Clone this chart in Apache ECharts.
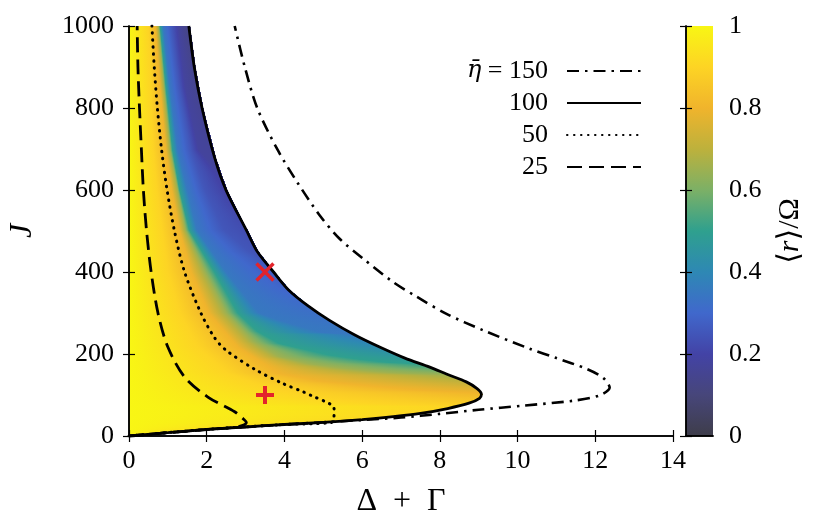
<!DOCTYPE html>
<html>
<head>
<meta charset="utf-8">
<script src="https://cdn.jsdelivr.net/npm/echarts@6/dist/echarts.min.js"></script>
<style>
  html, body { margin: 0; padding: 0; background: #fff; }
  #chart { width: 829px; height: 515px; }
</style>
</head>
<body>
<div id="chart"></div>
<script>
const serif = "'Liberation Serif', 'DejaVu Serif', serif";

// boundary curves [Δ+Γ, J], lower branch -> tip -> upper branch (J increasing)
const eta150 = [[0,0],[2,16],[4,28],[6,39],[7,45],[8,54],[9,64],[10.14,74],[11.43,86],[12.11,99],[12.37,118],[12.2,142],[11.77,164],[11,190],[10.31,213],[9.11,258],[8.17,298],[7.4,340],[6.79,376],[6.02,433],[5.42,481],[4.91,538],[4.35,616],[3.83,697],[3.3,800],[2.98,900],[2.72,1000]];
const eta100 = [[0,0],[1,8],[2,16],[3,22],[4,28],[5,33],[6,40],[6.8,47],[7.5,55],[8.2,67],[8.75,80],[9.02,92],[9.07,102],[8.95,116],[8.68,132],[8.2,150],[7.74,168],[7.1,190],[6.45,217],[5.8,247],[5.16,282],[4.6,318],[4.1,357],[3.72,400],[3.3,450],[3.02,502],[2.5,599],[2.2,680],[1.88,800],[1.68,900],[1.54,1000]];
const eta50 = [[0,0],[2,16],[4,28],[5.2,33],[5.27,45],[5.28,60],[5.26,72],[5.05,84],[4.73,97],[4.5,107],[3.96,128],[3.25,162],[2.5,209],[2.2,240],[1.85,300],[1.43,400],[1.17,500],[0.98,600],[0.84,697],[0.73,800],[0.65,900],[0.59,1000]];
const eta25 = [[0,0],[1.5,12],[2.7,21],[2.95,27],[3.02,33],[2.95,41],[2.72,59],[2.03,95],[1.43,144],[1.0,217],[0.75,298],[0.57,400],[0.45,502],[0.37,600],[0.32,697],[0.27,800],[0.23,900],[0.21,1000]];

// contours of <r>/Ω, from J = 1000 down to where they meet the η̄ = 100 boundary
const contourLevels = [0.9, 0.8, 0.65, 0.5, 0.35, 0.25, 0.18];
const iso90 = [[0.5,1000],[0.56,850],[0.62,697],[0.72,600],[0.85,502],[1.0,400],[1.3,300],[1.75,220],[2.5,155],[3.3,125],[3.9,110],[5.0,92],[6.45,79],[7.6,74],[8.41,72]];
const iso80 = [[0.68,1000],[0.8,850],[0.95,697],[1.1,600],[1.3,502],[1.6,400],[2.05,300],[2.8,217],[3.88,152],[5.0,133],[6.45,120],[7.6,111],[8.6,107],[9.05,105]];
const iso65 = [[0.76,1000],[0.9,850],[1.06,697],[1.25,600],[1.45,502],[1.95,400],[2.5,300],[3.2,230],[3.88,193],[4.7,175],[5.6,164],[6.5,156],[7.4,151],[8.22,149]];
const iso50 = [[0.8,1000],[0.95,850],[1.12,697],[1.3,600],[1.55,502],[2.2,400],[2.8,300],[3.3,255],[3.88,225],[5.16,197],[6.0,186],[6.71,179],[7.54,175]];
const iso35 = [[0.88,1000],[1.05,850],[1.25,697],[1.5,600],[1.75,502],[2.5,400],[3.35,300],[3.88,282],[4.99,252],[5.8,247]];
const iso25 = [[1.1,1000],[1.3,850],[1.6,697],[1.95,600],[2.45,502],[3.1,450],[3.45,432]];
const iso18 = [[1.27,1000],[1.45,850],[1.8,697],[2.35,640]];
const isolines = [iso90, iso80, iso65, iso50, iso35, iso25, iso18];
const leftEdgeValue = 1.0;      // value along Δ+Γ = 0
const topEdgeValue = 0.12;      // value where the boundary meets J = 1000
const lowerBranchValue = 0.93;  // value on the lower branch near J = 0

// markers
const crossPoint = [[3.5, 400]];
const plusPoint = [[3.5, 100]];

// ticks
const xTicks = [0, 14, 2];
const yTicks = [0, 1000, 200];
const cTicks = [0, 1, 0.2];

// colour map of the bar
const cmapVals = [0, 0.1, 0.2, 0.3, 0.4, 0.5, 0.6, 0.7, 0.8, 0.9, 1];
const cmapCols = ['#3e3d4a', '#47467a', '#4343a6', '#4068cc', '#2e88b4', '#2fa08e', '#7cb066', '#bdb13c', '#f0b42c', '#fdd424', '#f8f614'];

function hex(c) { return [1, 3, 5].map(i => parseInt(c.substr(i, 2), 16)); }
function colorAt(v) {
  v = Math.max(0, Math.min(1, v));
  for (let i = 1; i < cmapVals.length; i++) {
    if (v <= cmapVals[i]) {
      const t = (v - cmapVals[i - 1]) / (cmapVals[i] - cmapVals[i - 1]);
      const a = hex(cmapCols[i - 1]), b = hex(cmapCols[i]);
      return 'rgb(' + a.map((x, k) => Math.round(x + (b[k] - x) * t)).join(',') + ')';
    }
  }
  return cmapCols[cmapCols.length - 1];
}

// x of a J-monotonic polyline at height J
function xAt(pts, J) {
  for (let i = 1; i < pts.length; i++) {
    const a = pts[i - 1], b = pts[i];
    if ((J - a[1]) * (J - b[1]) <= 0) {
      const t = b[1] === a[1] ? 0 : (J - a[1]) / (b[1] - a[1]);
      return a[0] + (b[0] - a[0]) * t;
    }
  }
  return null;
}
// value on the boundary, from where each contour meets it
const edgeValues = [[0, lowerBranchValue]]
  .concat(isolines.map((iso, k) => [iso[iso.length - 1][1], contourLevels[k]]))
  .concat([[1000, topEdgeValue]])
  .sort((a, b) => a[0] - b[0]);
function edgeValueAt(J) {
  for (let i = 1; i < edgeValues.length; i++) {
    const a = edgeValues[i - 1], b = edgeValues[i];
    if (J <= b[0]) return a[1] + (b[1] - a[1]) * (J - a[0]) / (b[0] - a[0]);
  }
  return topEdgeValue;
}
// value profile along one row: [[x, value], ...]
function rowProfile(J) {
  const xb = xAt(eta100, J);
  const prof = [[0, leftEdgeValue]];
  isolines.forEach((iso, k) => {
    const x = xAt(iso, J);
    if (x !== null && x > prof[prof.length - 1][0] && x < xb) prof.push([x, contourLevels[k]]);
  });
  prof.push([xb, edgeValueAt(J)]);
  return prof;
}

// one pixel row at a time, each row a horizontal gradient through the contour crossings
function renderMap(params, api) {
  const children = [];
  const pTop = api.coord([0, 1000]), pBot = api.coord([0, 0]);
  const yTop = Math.round(pTop[1]), yBot = Math.round(pBot[1]);
  const pxPerJ = (pBot[1] - pTop[1]) / 1000;
  for (let py = yTop; py < yBot; py++) {
    const Jm = (pBot[1] - (py + 0.5)) / pxPerJ;
    const prof = rowProfile(Jm);
    const x0 = pTop[0];
    const x1 = api.coord([prof[prof.length - 1][0], Jm])[0];
    if (x1 - x0 < 0.5) continue;
    const stops = [];
    const pushStop = (x, v) => stops.push({ offset: Math.max(0, Math.min(1, (api.coord([x, Jm])[0] - x0) / (x1 - x0))), color: colorAt(v) });
    for (let i = 0; i < prof.length; i++) {
      if (i > 0) {
        const [xa, va] = prof[i - 1], [xc, vc] = prof[i];
        cmapVals.forEach(c => {
          if ((c - va) * (c - vc) < 0) pushStop(xa + (xc - xa) * (c - va) / (vc - va), c);
        });
      }
      pushStop(prof[i][0], prof[i][1]);
    }
    children.push({
      type: 'rect',
      shape: { x: Math.floor(x0), y: py, width: Math.ceil(x1 - Math.floor(x0)) + 1, height: 1 },
      style: { fill: new echarts.graphic.LinearGradient(x0, 0, x1, 0, stops, true) }
    });
  }
  return { type: 'group', children };
}

const axisLine = { show: true, lineStyle: { color: '#000', width: 1.5 } };
const tickIn = { show: true, inside: true, length: 6, lineStyle: { color: '#000', width: 1.2 } };
const labelStyle = { fontFamily: serif, fontSize: 26, color: '#000' };

const chart = echarts.init(document.getElementById('chart'));
chart.setOption({
  animation: false,
  backgroundColor: '#fff',
  grid: [
    { left: 129, top: 26, width: 544, height: 410, outerBoundsMode: 'none', containLabel: false },
    { left: 686, top: 26, width: 27, height: 410, outerBoundsMode: 'none', containLabel: false }
  ],
  xAxis: [
    { gridIndex: 0, type: 'value', min: xTicks[0], max: xTicks[1], interval: xTicks[2], position: 'bottom', z: 10,
      axisLine, axisTick: tickIn, splitLine: { show: false },
      axisLabel: { ...labelStyle, margin: 12, formatter: v => String(v) },
      name: 'Δ\u2002+\u2002Γ', nameLocation: 'middle', nameGap: 50,
      nameTextStyle: { fontFamily: serif, fontSize: 32, color: '#000' } },
    { gridIndex: 0, type: 'value', min: xTicks[0], max: xTicks[1], interval: xTicks[2], position: 'top', z: 10,
      axisLine, axisTick: tickIn, splitLine: { show: false }, axisLabel: { show: false } },
    { gridIndex: 1, type: 'value', min: 0, max: 1, position: 'bottom', z: 10,
      axisLine, axisTick: { show: false }, splitLine: { show: false }, axisLabel: { show: false } },
    { gridIndex: 1, type: 'value', min: 0, max: 1, position: 'top', z: 10,
      axisLine, axisTick: { show: false }, splitLine: { show: false }, axisLabel: { show: false } }
  ],
  yAxis: [
    { gridIndex: 0, type: 'value', min: yTicks[0], max: yTicks[1], interval: yTicks[2], position: 'left', z: 10,
      axisLine, axisTick: tickIn, splitLine: { show: false },
      axisLabel: { ...labelStyle, margin: 15, formatter: v => String(v) },
      name: 'J', nameLocation: 'middle', nameGap: 90,
      nameTextStyle: { fontFamily: serif, fontSize: 32, fontStyle: 'italic', color: '#000' } },
    { gridIndex: 0, type: 'value', min: yTicks[0], max: yTicks[1], interval: yTicks[2], position: 'right', z: 10,
      axisLine, axisTick: tickIn, splitLine: { show: false }, axisLabel: { show: false } },
    { gridIndex: 1, type: 'value', min: cTicks[0], max: cTicks[1], interval: cTicks[2], position: 'right', z: 10,
      axisLine, axisTick: tickIn, splitLine: { show: false },
      axisLabel: { ...labelStyle, margin: 16, formatter: v => String(+v.toFixed(1)) },
      name: '⟨{i|r}⟩/Ω', nameLocation: 'middle', nameGap: 62,
      nameTextStyle: { fontFamily: serif, fontSize: 30, color: '#000',
        rich: { i: { fontFamily: serif, fontSize: 30, fontStyle: 'italic', color: '#000' } } } },
    { gridIndex: 1, type: 'value', min: cTicks[0], max: cTicks[1], interval: cTicks[2], position: 'left', z: 10,
      axisLine, axisTick: tickIn, splitLine: { show: false }, axisLabel: { show: false } }
  ],
  legend: {
    data: ['η̄ = 150', '100', '50', '25'],
    orient: 'vertical',
    align: 'right',
    right: 187,
    top: 58,
    padding: 0,
    itemWidth: 74,
    itemHeight: 12,
    itemGap: 6,
    itemStyle: { opacity: 0 },
    textStyle: { fontFamily: serif, fontSize: 26, color: '#000', lineHeight: 26, padding: [0, 14, 0, 0],
      rich: { e: { fontFamily: "'DejaVu Serif', serif", fontSize: 24, fontStyle: 'italic', color: '#000' } } },
    formatter: n => n.startsWith('η') ? '{e|η̄} = 150' : n
  },
  series: [
    { type: 'custom', name: 'map', clip: true, z: 1, silent: true,
      data: [[0, 0]], renderItem: renderMap },
    { type: 'line', name: 'η̄ = 150', data: eta150, smooth: 0.3, symbol: 'none', z: 3,
      itemStyle: { color: '#000' },
      lineStyle: { color: '#000', width: 2.6, type: [12, 6, 2.5, 6] } },
    { type: 'line', name: '100', data: eta100, smooth: 0.3, symbol: 'none', z: 3,
      itemStyle: { color: '#000' },
      lineStyle: { color: '#000', width: 2.8, type: 'solid' } },
    { type: 'line', name: '50', data: eta50, smooth: 0.3, symbol: 'none', z: 3,
      itemStyle: { color: '#000' },
      lineStyle: { color: '#000', width: 3, type: [0.5, 6.5], cap: 'round' } },
    { type: 'line', name: '25', data: eta25, smooth: 0.3, symbol: 'none', z: 3,
      itemStyle: { color: '#000' },
      lineStyle: { color: '#000', width: 2.8, type: [15, 7] } },
    { type: 'scatter', name: 'cross', data: crossPoint, z: 4, symbolSize: 24, symbolRotate: 45,
      symbol: 'path://M-1.7,-12H1.7V-1.7H12V1.7H1.7V12H-1.7V1.7H-12V-1.7H-1.7Z',
      itemStyle: { color: '#e3242b', opacity: 1 } },
    { type: 'scatter', name: 'plus', data: plusPoint, z: 4, symbolSize: 18,
      symbol: 'path://M-2,-9H2V-2H9V2H2V9H-2V2H-9V-2H-2Z',
      itemStyle: { color: '#e3242b', opacity: 1 } },
    { type: 'custom', name: 'colorbar', xAxisIndex: 2, yAxisIndex: 2, z: 1, silent: true,
      data: [[0, 0]],
      renderItem: (params, api) => {
        const a = api.coord([0, 1]), b = api.coord([1, 0]);
        return {
          type: 'rect',
          shape: { x: a[0], y: a[1], width: b[0] - a[0], height: b[1] - a[1] },
          style: { fill: new echarts.graphic.LinearGradient(0, 1, 0, 0,
            cmapVals.map((v, k) => ({ offset: v, color: cmapCols[k] }))) }
        };
      } }
  ]
});
</script>
</body>
</html>
